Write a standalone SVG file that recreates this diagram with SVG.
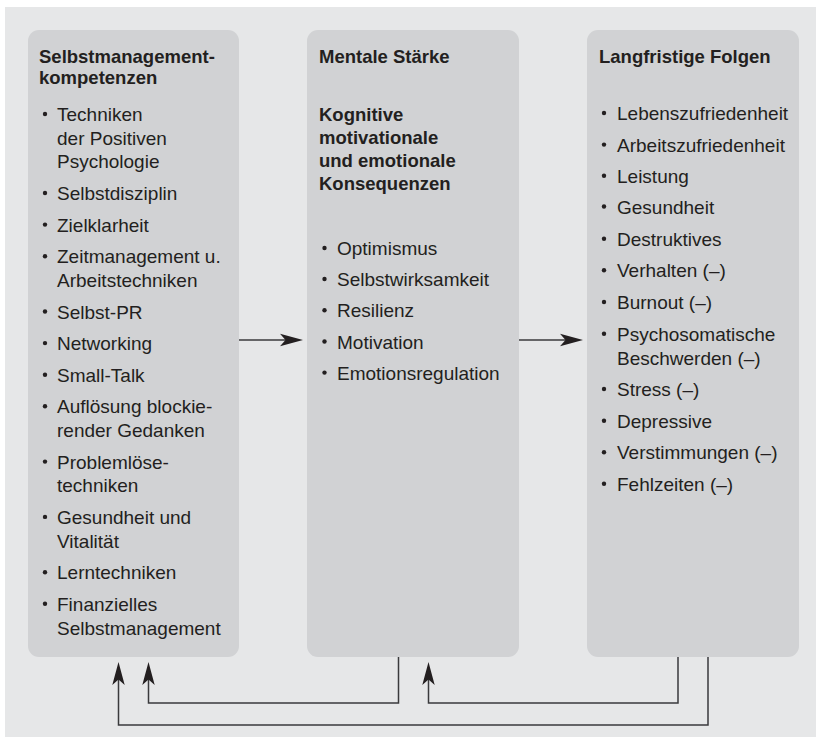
<svg xmlns="http://www.w3.org/2000/svg" width="816" height="744" viewBox="0 0 816 744">
  <style>
    .box { fill: #d1d2d4; }
    .title { font-family: "Liberation Sans", Arial, sans-serif; font-weight: bold; font-size: 18.5px; fill: #231f20; }
    .item { font-family: "Liberation Sans", Arial, sans-serif; font-size: 19px; fill: #231f20; }
    .dot { fill: #231f20; }
    .conn { fill: none; stroke: #3a3a3c; stroke-width: 1.5; }
  </style>
  <defs>
    <marker id="ah" markerUnits="userSpaceOnUse" viewBox="-24 -7 25 14" refX="-12" refY="0" markerWidth="25" markerHeight="14" orient="auto">
      <path d="M0,0 L-23,-6.2 L-17.5,0 L-23,6.2 Z" fill="#231f20"/>
    </marker>
  </defs>
  <rect x="0" y="0" width="816" height="744" fill="#ffffff"/>
  <rect x="5" y="7" width="811" height="730" fill="#e6e7e8"/>

  <g id="node-selbstmanagement">
    <rect class="box" x="28" y="30" width="211" height="627" rx="11"/>
    <text class="title" x="39" y="63">Selbstmanagement-</text>
    <text class="title" x="39" y="84">kompetenzen</text>
    <g class="item">
      <circle class="dot" cx="45" cy="114" r="2.2"/>
      <text class="item" x="57" y="121">Techniken</text>
      <text class="item" x="57" y="144.7">der Positiven</text>
      <text class="item" x="57" y="168.4">Psychologie</text>
      <circle class="dot" cx="45" cy="193" r="2.2"/>
      <text class="item" x="57" y="200">Selbstdisziplin</text>
      <circle class="dot" cx="45" cy="224.6" r="2.2"/>
      <text class="item" x="57" y="231.6">Zielklarheit</text>
      <circle class="dot" cx="45" cy="256.2" r="2.2"/>
      <text class="item" x="57" y="263.2">Zeitmanagement u.</text>
      <text class="item" x="57" y="286.9">Arbeitstechniken</text>
      <circle class="dot" cx="45" cy="311.5" r="2.2"/>
      <text class="item" x="57" y="318.5">Selbst-PR</text>
      <circle class="dot" cx="45" cy="343.1" r="2.2"/>
      <text class="item" x="57" y="350.1">Networking</text>
      <circle class="dot" cx="45" cy="374.7" r="2.2"/>
      <text class="item" x="57" y="381.7">Small-Talk</text>
      <circle class="dot" cx="45" cy="406.3" r="2.2"/>
      <text class="item" x="57" y="413.3">Auflösung blockie-</text>
      <text class="item" x="57" y="437">render Gedanken</text>
      <circle class="dot" cx="45" cy="461.6" r="2.2"/>
      <text class="item" x="57" y="468.6">Problemlöse-</text>
      <text class="item" x="57" y="492.3">techniken</text>
      <circle class="dot" cx="45" cy="516.9" r="2.2"/>
      <text class="item" x="57" y="523.9">Gesundheit und</text>
      <text class="item" x="57" y="547.6">Vitalität</text>
      <circle class="dot" cx="45" cy="572.2" r="2.2"/>
      <text class="item" x="57" y="579.2">Lerntechniken</text>
      <circle class="dot" cx="45" cy="603.8" r="2.2"/>
      <text class="item" x="57" y="610.8">Finanzielles</text>
      <text class="item" x="57" y="634.5">Selbstmanagement</text>
    </g>
  </g>

  <g id="node-mentale-staerke">
    <rect class="box" x="307" y="30" width="212" height="627" rx="11"/>
    <text class="title" x="319" y="63">Mentale Stärke</text>
    <text class="title" x="319" y="120.5">Kognitive</text>
    <text class="title" x="319" y="143.8">motivationale</text>
    <text class="title" x="319" y="167.1">und emotionale</text>
    <text class="title" x="319" y="190.4">Konsequenzen</text>
    <circle class="dot" cx="324.5" cy="248" r="2.2"/>
    <text class="item" x="337" y="255">Optimismus</text>
    <circle class="dot" cx="324.5" cy="279" r="2.2"/>
    <text class="item" x="337" y="286">Selbstwirksamkeit</text>
    <circle class="dot" cx="324.5" cy="310.3" r="2.2"/>
    <text class="item" x="337" y="317.3">Resilienz</text>
    <circle class="dot" cx="324.5" cy="341.5" r="2.2"/>
    <text class="item" x="337" y="348.5">Motivation</text>
    <circle class="dot" cx="324.5" cy="372.6" r="2.2"/>
    <text class="item" x="337" y="379.6">Emotionsregulation</text>
  </g>

  <g id="node-langfristige-folgen">
    <rect class="box" x="587" y="30" width="212" height="627" rx="11"/>
    <text class="title" x="599" y="63">Langfristige Folgen</text>
    <circle class="dot" cx="604" cy="113" r="2.2"/>
    <text class="item" x="617" y="120">Lebenszufriedenheit</text>
    <circle class="dot" cx="604" cy="144.6" r="2.2"/>
    <text class="item" x="617" y="151.6">Arbeitszufriedenheit</text>
    <circle class="dot" cx="604" cy="175.8" r="2.2"/>
    <text class="item" x="617" y="182.8">Leistung</text>
    <circle class="dot" cx="604" cy="206.5" r="2.2"/>
    <text class="item" x="617" y="213.5">Gesundheit</text>
    <circle class="dot" cx="604" cy="238.7" r="2.2"/>
    <text class="item" x="617" y="245.7">Destruktives</text>
    <circle class="dot" cx="604" cy="270.3" r="2.2"/>
    <text class="item" x="617" y="277.3">Verhalten (–)</text>
    <circle class="dot" cx="604" cy="302" r="2.2"/>
    <text class="item" x="617" y="309">Burnout (–)</text>
    <circle class="dot" cx="604" cy="333.7" r="2.2"/>
    <text class="item" x="617" y="340.7">Psychosomatische</text>
    <text class="item" x="617" y="365">Beschwerden (–)</text>
    <circle class="dot" cx="604" cy="389" r="2.2"/>
    <text class="item" x="617" y="396">Stress (–)</text>
    <circle class="dot" cx="604" cy="420.7" r="2.2"/>
    <text class="item" x="617" y="427.7">Depressive</text>
    <circle class="dot" cx="604" cy="452.3" r="2.2"/>
    <text class="item" x="617" y="459.3">Verstimmungen (–)</text>
    <circle class="dot" cx="604" cy="483.7" r="2.2"/>
    <text class="item" x="617" y="490.7">Fehlzeiten (–)</text>
  </g>

  <g id="connectors">
    <path class="conn" d="M239,340 H291" marker-end="url(#ah)"/>
    <path class="conn" d="M519,340 H571" marker-end="url(#ah)"/>
    <path class="conn" d="M398.5,657 V703 H148.5 V674" marker-end="url(#ah)"/>
    <path class="conn" d="M678,657 V703 H428.5 V674" marker-end="url(#ah)"/>
    <path class="conn" d="M708,657 V725 H118.5 V674" marker-end="url(#ah)"/>
  </g>
</svg>
